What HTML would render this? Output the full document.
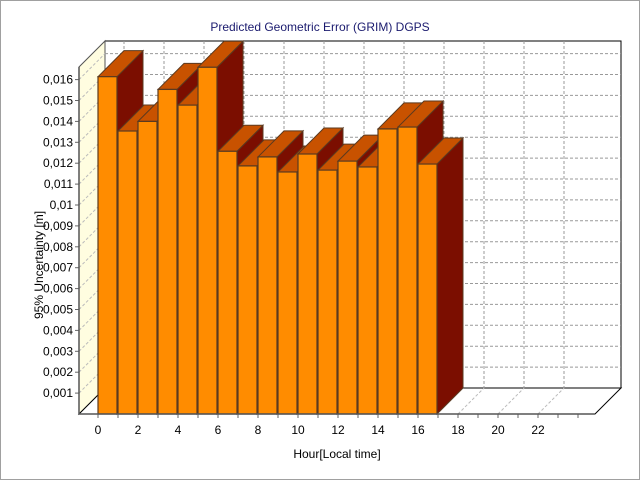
<!DOCTYPE html>
<html><head><meta charset="utf-8"><style>
html,body{margin:0;padding:0;background:#fff}
svg{display:block;font-family:Tahoma,"Liberation Sans",sans-serif}
</style></head><body>
<svg id="chart" width="640" height="480" viewBox="0 0 640 480" xmlns="http://www.w3.org/2000/svg">
<rect x="0.5" y="0.5" width="639" height="479" fill="#fff" stroke="#a0a0a0"/>
<text x="320" y="31" text-anchor="middle" font-size="12" fill="#1a1a6e">Predicted Geometric Error (GRIM) DGPS</text>
<text transform="translate(43,265) rotate(-90)" text-anchor="middle" font-size="12" fill="#000">95% Uncertainty [m]</text>
<text x="337" y="458" text-anchor="middle" font-size="12" fill="#000">Hour[Local time]</text>
<g id="walls"></g>
<g id="bars"></g>
<g id="axes"></g>
</svg>
<script>
const hours = [0,1,2,3,4,5,6,7,8,9,10,11,12,13,14,15,16];
const values = [0.01614,0.01354,0.0140,0.01553,0.01478,0.01659,0.01257,0.01187,0.0123,0.01158,0.01244,0.01167,0.0121,0.01182,0.01364,0.01373,0.01196];
const yTicks = [0.001,0.002,0.003,0.004,0.005,0.006,0.007,0.008,0.009,0.01,0.011,0.012,0.013,0.014,0.015,0.016];
const xTicks = [0,2,4,6,8,10,12,14,16,18,20,22];

const NS='http://www.w3.org/2000/svg';
const X0=98, HW=20, Y0=414, PY=20.9/0.001, DX=26, DY=-26;
const LEFT=79, RIGHT=595, TOPF=67;
const xs=h=>X0+h*HW;
const ys=v=>Y0-v*PY;
function mk(tag,attrs,parent){const e=document.createElementNS(NS,tag);for(const k in attrs)e.setAttribute(k,attrs[k]);parent.appendChild(e);return e;}
const walls=document.getElementById('walls'), barsG=document.getElementById('bars'), axes=document.getElementById('axes');

// back wall
const bw=mk('rect',{x:LEFT+DX,y:TOPF+DY,width:RIGHT-LEFT,height:Y0-TOPF,fill:'#fff',stroke:'#000','stroke-width':1},walls);


// left wall
const lw=mk('polygon',{points:`${LEFT},${Y0} ${LEFT},${TOPF} ${LEFT+DX},${TOPF+DY} ${LEFT+DX},${Y0+DY}`,fill:'#fffde0',stroke:'#555'},walls);


// floor
const fl=mk('polygon',{points:`${LEFT},${Y0} ${LEFT+DX},${Y0+DY} ${RIGHT+DX},${Y0+DY} ${RIGHT},${Y0}`,fill:'#fff',stroke:'#000'},walls);


yTicks.forEach(v=>{
  const y=ys(v);
  const g=mk('line',{x1:LEFT+DX,y1:y+DY,x2:RIGHT+DX,y2:y+DY,stroke:'#999','stroke-dasharray':'3,2'},walls);
  
  
  const d=mk('line',{x1:LEFT,y1:y,x2:LEFT+DX,y2:y+DY,stroke:'#bbb','stroke-dasharray':'3,2'},walls);
  
  
  const t=mk('line',{x1:LEFT-4,y1:y,x2:LEFT,y2:y,stroke:'#666'},axes);
  
  
  const l=mk('text',{x:LEFT-6,y:y+4,'text-anchor':'end','font-size':'12',fill:'#000'},axes);
  l.textContent=String(+v.toFixed(3)).replace('.',',');
  
  
});
xTicks.forEach(h=>{
  const x=xs(h);
  const g=mk('line',{x1:x+DX,y1:TOPF+DY,x2:x+DX,y2:Y0+DY,stroke:'#999','stroke-dasharray':'3,2'},walls);
  
  
  const d=mk('line',{x1:x,y1:Y0,x2:x+DX,y2:Y0+DY,stroke:'#bbb','stroke-dasharray':'3,2'},walls);
  
  
  const l=mk('text',{x:x,y:Y0+20,'text-anchor':'middle','font-size':'12',fill:'#000'},axes);
  l.textContent=h;
  
  
});
for(let h=0;h<=24;h++){
  const t=mk('line',{x1:xs(h),y1:Y0,x2:xs(h),y2:Y0+4,stroke:'#666'},axes);
  
  
}
const ax=mk('polyline',{points:`${LEFT},${TOPF} ${LEFT},${Y0} ${RIGHT},${Y0}`,fill:'none',stroke:'#555','stroke-width':1.5},axes);



// bars
hours.forEach((h,i)=>{
  const x1=xs(h), x2=xs(h)+HW-1, y=ys(values[i]);
  const g=mk('g',{},barsG);
  
  
  mk('polygon',{points:`${x2},${Y0} ${x2},${y} ${x2+DX},${y+DY} ${x2+DX},${Y0+DY}`,fill:'#7b0e00',stroke:'#5a3a20','stroke-width':1},g);
  mk('polygon',{points:`${x1},${y} ${x1+DX},${y+DY} ${x2+DX},${y+DY} ${x2},${y}`,fill:'#c85200',stroke:'#5a3a20','stroke-width':1},g);
  mk('rect',{x:x1,y:y,width:HW-1,height:Y0-y,fill:'#ff8c00',stroke:'#5a3a20','stroke-width':1.2},g);
});
</script>
</body></html>
